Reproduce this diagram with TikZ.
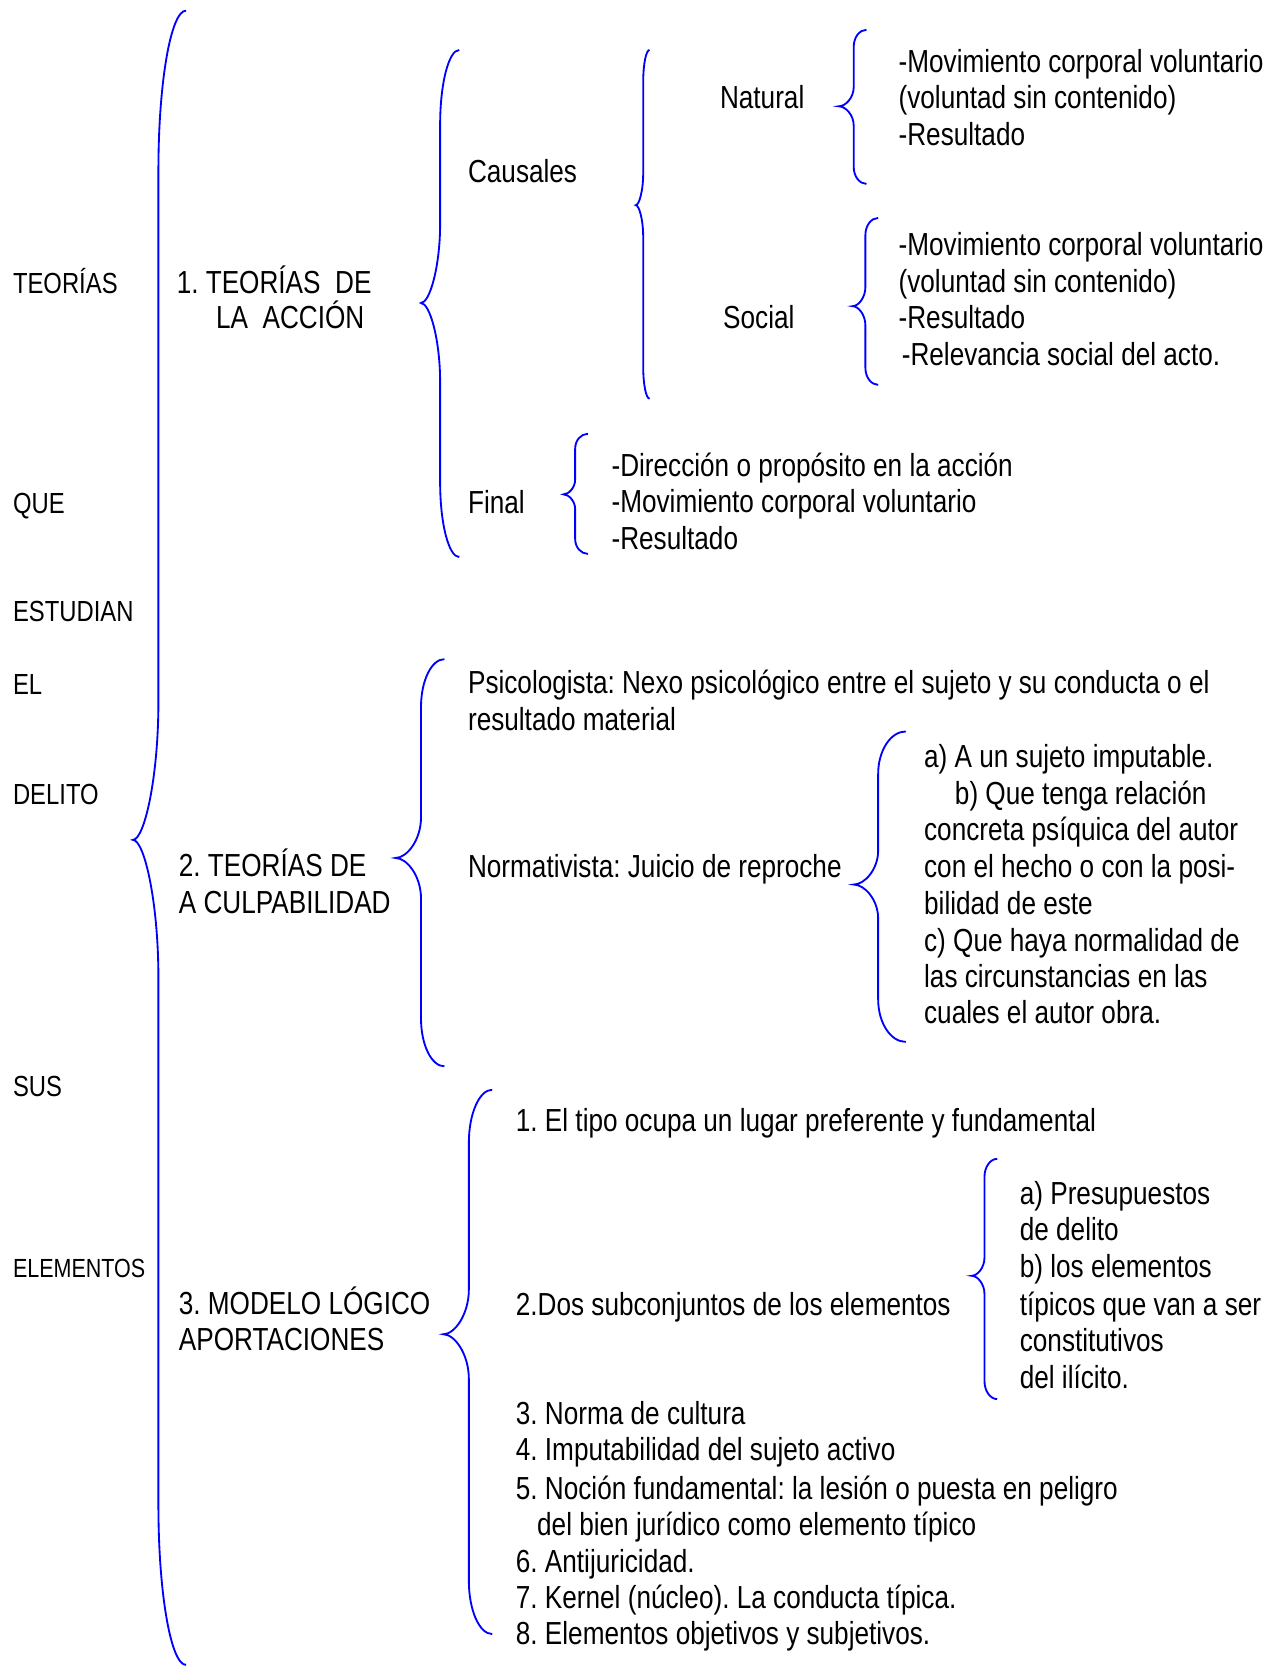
\documentclass[tikz,border=0pt]{standalone}
\usepackage{fontspec}
\setmainfont{Liberation Sans}[FakeStretch=0.82]
\frenchspacing
% curly brace: spine x, ends x, tip x, top y, tip y, bottom y, end curve, middle curve
\newcommand\wordbrace[8]{%
  \draw[brc] (#2,#4) .. controls ({#2-0.55*(#2-#1)},#4) and (#1,{#4+0.45*#7}) .. (#1,#4+#7)
    -- (#1,#5-#8) .. controls (#1,{#5-0.45*#8}) and ({#3+0.45*(#1-#3)},#5) .. (#3,#5)
    .. controls ({#3+0.45*(#1-#3)},#5) and (#1,{#5+0.45*#8}) .. (#1,#5+#8)
    -- (#1,#6-#7) .. controls (#1,{#6-0.45*#7}) and ({#2-0.55*(#2-#1)},#6) .. (#2,#6);}
\begin{document}
\begin{tikzpicture}[x=0.75pt,y=-0.75pt,
  txt/.style={anchor=base west, inner sep=0pt, font=\fontsize{22.5}{26}\selectfont},
  side/.style={anchor=base west, inner sep=0pt, font=\fontsize{20.5}{24}\selectfont},
  sidesmall/.style={anchor=base west, inner sep=0pt, font=\fontsize{18.5}{22}\selectfont},
  brc/.style={draw=blue, line width=1.3pt}]
\useasboundingbox (0,0) rectangle (1200,1568);

% left column
\node[side] (l1) at (12,276) {TEORÍAS};
\node[side] (l2) at (12,483) {QUE};
\node[side] (l3) at (12,585) {ESTUDIAN};
\node[side] (l4) at (12,653) {EL};
\node[side] (l5) at (12,757) {DELITO};
\node[side] (l6) at (12,1031) {SUS};
\node[sidesmall] (l7) at (12,1202) {ELEMENTOS};

% main brace
\wordbrace{149}{175}{125}{10}{790}{1566}{150}{130}

% 1. teorías de la acción
\node[txt] (a1) at (166,276) {1. TEORÍAS\ \ DE};
\node[txt] (a2) at (203,309) {LA\ \ ACCIÓN};
\wordbrace{414}{432}{396}{47}{285}{524}{70}{75}
\node[txt] (caus) at (440,172) {Causales};
\node[txt] (fin) at (440,483) {Final};

\wordbrace{605}{611}{598}{47}{193}{375}{30}{30}
\node[txt] (nat) at (677,102) {Natural};
\node[txt] (soc) at (680,309) {Social};

\wordbrace{803}{815}{789}{28}{100}{173}{16}{18}
\node[txt] (n1) at (845,68) {-Movimiento corporal voluntario};
\node[txt] (n2) at (845,102) {(voluntad sin contenido)};
\node[txt] (n3) at (845,137) {-Resultado};

\wordbrace{814}{826}{802}{205}{288}{362}{16}{18}
\node[txt] (s1) at (845,240) {-Movimiento corporal voluntario};
\node[txt] (s2) at (845,275) {(voluntad sin contenido)};
\node[txt] (s3) at (845,309) {-Resultado};
\node[txt] (s4) at (848,344) {-Relevancia social del acto.};

\wordbrace{541}{553}{530}{408}{465}{521}{14}{14}
\node[txt] (f1) at (575,448) {-Dirección o propósito en la acción};
\node[txt] (f2) at (575,482) {-Movimiento corporal voluntario};
\node[txt] (f3) at (575,517) {-Resultado};

% 2. teorías de la culpabilidad
\node[txt] (b1) at (168,824) {2. TEORÍAS DE};
\node[txt] (b2) at (168,859) {A CULPABILIDAD};
\wordbrace{396}{418}{372}{620}{807}{1003}{45}{38}
\node[txt] (p1) at (440,652) {Psicologista: Nexo psicológico entre el sujeto y su conducta o el};
\node[txt] (p2) at (440,687) {resultado material};
\node[txt] (nor) at (440,825) {Normativista: Juicio de reproche};

\wordbrace{826}{852}{803}{688}{832}{980}{40}{32}
\node[txt] (h1) at (869,722) {a) A un sujeto imputable.};
\node[txt] (h2) at (898,757) {b) Que tenga relación};
\node[txt] (h3) at (869,791) {concreta psíquica del autor};
\node[txt] (h4) at (869,825) {con el hecho o con la posi-};
\node[txt] (h5) at (869,860) {bilidad de este};
\node[txt] (h6) at (869,895) {c) Que haya normalidad de};
\node[txt] (h7) at (869,929) {las circunstancias en las};
\node[txt] (h8) at (869,963) {cuales el autor obra.};

% 3. modelo lógico
\node[txt] (c1) at (168,1236) {3. MODELO LÓGICO};
\node[txt] (c2) at (168,1270) {APORTACIONES};
\wordbrace{441}{463}{417}{1025}{1255}{1537}{50}{42}
\node[txt] (i1) at (485,1064) {1. El tipo ocupa un lugar preferente y fundamental};
\node[txt] (i2) at (485,1237) {2.Dos subconjuntos de los elementos};
\node[txt] (i3) at (485,1340) {3. Norma de cultura};
\node[txt] (i4) at (485,1374) {4. Imputabilidad del sujeto activo};
\node[txt] (i5) at (485,1410) {5. Noción fundamental: la lesión o puesta en peligro};
\node[txt] (i5b) at (505,1444) {del bien jurídico como elemento típico};
\node[txt] (i6) at (485,1479) {6. Antijuricidad.};
\node[txt] (i7) at (485,1513) {7. Kernel (núcleo). La conducta típica.};
\node[txt] (i8) at (485,1547) {8. Elementos objetivos y subjetivos.};

\wordbrace{926}{938}{914}{1090}{1200}{1316}{17}{17}
\node[txt] (j1) at (959,1133) {a) Presupuestos};
\node[txt] (j2) at (959,1167) {de delito};
\node[txt] (j3) at (959,1202) {b) los elementos};
\node[txt] (j4) at (959,1237) {típicos que van a ser};
\node[txt] (j5) at (959,1271) {constitutivos};
\node[txt] (j6) at (959,1306) {del ilícito.};
\end{tikzpicture}
\end{document}
